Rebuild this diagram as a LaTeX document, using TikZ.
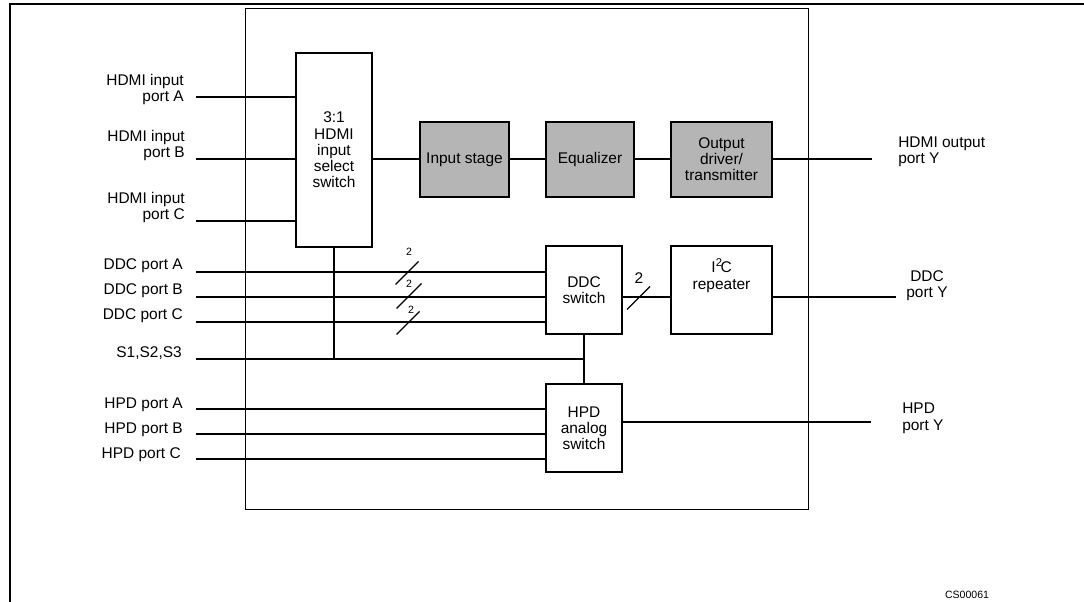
\documentclass[tikz,border=0pt]{standalone}
\usepackage{fontspec}
\setmainfont{Liberation Sans}
\usetikzlibrary{calc}
\begin{document}
\begin{tikzpicture}[x=0.025cm,y=-0.025cm,
  every node/.style={font=\fontsize{11}{11.5}\selectfont, inner sep=0pt},
  box/.style={draw, line width=1.4pt, align=center, inner sep=0pt},
  graybox/.style={box, fill=black!29},
  wire/.style={line width=0.8pt},
  lbl/.style={anchor=base east, align=right},
  rlbl/.style={anchor=base west, align=left},
  small/.style={font=\fontsize{7.5}{8}\selectfont},
  tick/.style={line width=0.8pt}]
\useasboundingbox (0,0) rectangle (1084,602);
% outer frame (cut)
\draw[line width=1.6pt, line join=miter] (10,602) -- (10,4) -- (1084,4);
% chip outline
\node[draw, line width=0.8pt, minimum width=14.05cm, minimum height=12.5cm] (chip) at (527,259) {};
% blocks
\node[box, minimum width=1.9cm, minimum height=4.85cm] (sel) at (334,150) {3:1\\HDMI\\input\\select\\switch};
\node[graybox, minimum width=2.225cm, minimum height=1.875cm] (ins) at (464.5,159.5) {Input stage};
\node[graybox, minimum width=2.2cm, minimum height=1.875cm] (eq) at (590,159.5) {Equalizer};
\node[graybox, minimum width=2.525cm, minimum height=1.875cm] (outd) at (721.5,159.5) {Output\\driver/\\transmitter};
\node[box, minimum width=1.9cm, minimum height=2.2cm] (ddc) at (584,290) {DDC\\switch};
\node[box, minimum width=2.525cm, minimum height=2.2cm] (i2c) at (721.5,290) {};
\node[anchor=base, align=center] (i2ct) at (721.5,290) {I\kern0.3pt\raisebox{0.75ex}{\fontsize{8}{8}\selectfont 2}\kern-1.2pt C\\[1pt]repeater};
\node[box, minimum width=1.9cm, minimum height=2.2cm] (hpd) at (584,428) {HPD\\analog\\switch};
% left labels (base = last line)
\node[lbl] (lA) at (184,102) {HDMI input\\port A};
\node[lbl] (lB) at (185,158) {HDMI input\\port B};
\node[lbl] (lC) at (185,220) {HDMI input\\port C};
\node[lbl] (lDA) at (183,270) {DDC port A};
\node[lbl] (lDB) at (183,295) {DDC port B};
\node[lbl] (lDC) at (183,320) {DDC port C};
\node[lbl] (lS) at (182,358) {S1,S2,S3};
\node[lbl] (lHA) at (183,408) {HPD port A};
\node[lbl] (lHB) at (183,433) {HPD port B};
\node[lbl] (lHC) at (181,458) {HPD port C};
% right labels
\node[rlbl] (rH) at (898,164) {HDMI output\\port Y};
\node[anchor=base, align=center] (rD) at (927,298) {DDC\\port Y};
\node[rlbl] (rP) at (902,430) {HPD\\port Y};
\node[small, anchor=base] (cs) at (967,598) {CS00061};
% free wire ends
\coordinate (iA) at (196,97);
\coordinate (iB) at (196,159);
\coordinate (iC) at (196,221);
\coordinate (dA) at (196,272);
\coordinate (dB) at (196,297);
\coordinate (dC) at (196,322);
\coordinate (sS) at (196,359);
\coordinate (hA) at (196,409);
\coordinate (hB) at (196,434);
\coordinate (hC) at (196,459);
\coordinate (oH) at (872,159);
\coordinate (oD) at (896,297);
\coordinate (oP) at (871,422);
% wires
\draw[wire] (iA) -- (iA -| sel.west);
\draw[wire] (iB) -- (iB -| sel.west);
\draw[wire] (iC) -- (iC -| sel.west);
\draw[wire] (iB -| sel.east) -- (iB -| ins.west);
\draw[wire] (iB -| ins.east) -- (iB -| eq.west);
\draw[wire] (iB -| eq.east) -- (iB -| outd.west);
\draw[wire] (iB -| outd.east) -- (oH);
\draw[wire] (dA) -- (dA -| ddc.west);
\draw[wire] (dB) -- (dB -| ddc.west);
\draw[wire] (dC) -- (dC -| ddc.west);
\draw[wire] (dB -| ddc.east) -- (dB -| i2c.west);
\draw[wire] (dB -| i2c.east) -- (oD);
\draw[wire] (sS) -- (sS -| ddc.south);
\draw[wire] (sel.south) -- (sel.south |- sS);
\draw[wire] (ddc.south) -- (hpd.north);
\draw[wire] (hA) -- (hA -| hpd.west);
\draw[wire] (hB) -- (hB -| hpd.west);
\draw[wire] (hC) -- (hC -| hpd.west);
\draw[wire] (oP -| hpd.east) -- (oP);
% bus ticks
\coordinate (t1) at (407,273);
\coordinate (t2) at (409,296);
\coordinate (t3) at (408,323);
\coordinate (t4) at (638.5,298);
\draw[tick] ($(t1)+(-11.5,11.5)$) -- ($(t1)+(11.5,-11.5)$);
\draw[tick] ($(t2)+(-12.5,12.5)$) -- ($(t2)+(12.5,-12.5)$);
\draw[tick] ($(t3)+(-11.5,11.5)$) -- ($(t3)+(11.5,-11.5)$);
\draw[tick] ($(t4)+(-11.5,11.5)$) -- ($(t4)+(11.5,-11.5)$);
\node[small] (n1) at (409,252) {2};
\node[small] (n2) at (409,284) {2};
\node[small] (n3) at (411,310) {2};
\node (n4) at (639,278) {2};
\end{tikzpicture}
\end{document}
